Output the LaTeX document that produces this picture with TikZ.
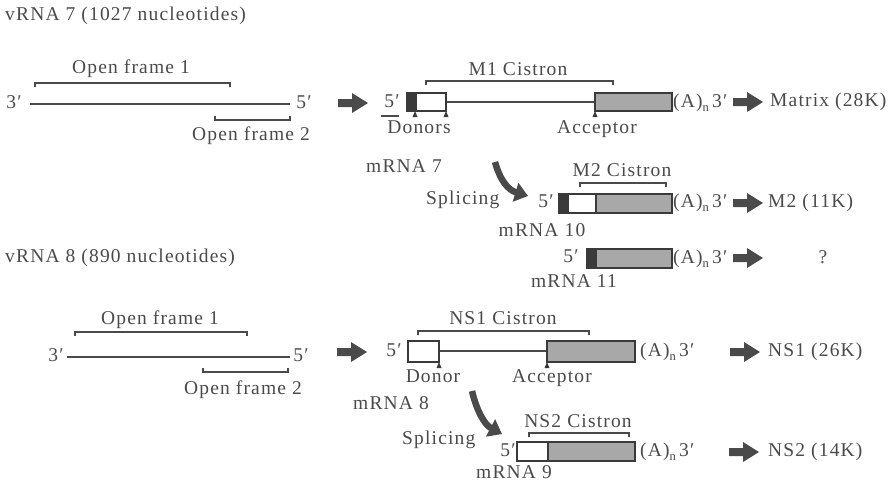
\documentclass[tikz,border=0pt]{standalone}
\usepackage{fontspec}
\setmainfont{Liberation Serif}[LetterSpace=6]
\usetikzlibrary{arrows.meta}
\definecolor{ink}{HTML}{4A4A4A}
\definecolor{dark}{HTML}{3A3A3A}
\definecolor{cistron}{HTML}{A8A8A8}
\newcommand{\polyA}{(A)\raisebox{-4pt}{\fontsize{12.5}{12}\selectfont n}\,3′}
\begin{document}
\begin{tikzpicture}[x=1pt,y=-1pt,
  lbl/.style={text=ink, inner sep=0pt, font=\fontsize{19.5}{22}\selectfont, text height=13pt, text depth=4.5pt},
  rna/.style={draw=ink, line width=1.3pt},
  brk/.style={draw=ink, line width=1.2pt},
  exon/.style={draw=dark, line width=1.6pt, fill=white},
  coding/.style={draw=dark, line width=1.8pt, fill=cistron},
  leader/.style={draw=dark, line width=1.6pt, fill=dark},
  splice/.style={draw=ink, line width=6.5pt, -{Triangle[length=13pt,width=19pt]}},
  fatarrow/.pic={\fill[ink] (0,-4) -- (14,-4) -- (14,-10) -- (30,0) -- (14,10) -- (14,4) -- (0,4) -- cycle;},
  site/.pic={\fill[dark] (0,0) -- (-2.5,6) -- (2.5,6) -- cycle;}
]
\useasboundingbox (0,0) rectangle (895,491);

% ---------------- segment 7 ----------------
\node[lbl, anchor=west] (v7) at (5,16) {vRNA 7 (1027 nucleotides)};

% genomic strand with its two open frames
\node[lbl] (v7three) at (14,104) {3′};
\node[lbl] (v7five) at (304,104) {5′};
\draw[rna] (30,104) -- (290,104);
\node[lbl] (v7of1) at (131,69) {Open frame 1};
\draw[brk] (35,87) |- (230,83) -- (230,87);
\draw[brk] (215,116) |- (290,120) -- (290,116);
\node[lbl] (v7of2) at (251,136) {Open frame 2};

\pic at (338,103) {fatarrow};

% mRNA 7 (unspliced)
\node[lbl] (m7five) at (392,103) {5′};
\draw[ink, line width=1.1pt] (381,116) -- (399,116);
\draw[rna] (446,102) -- (595,102);
\draw[leader] (407,93) rectangle (416,111);
\draw[exon] (416,93) rectangle (446,111);
\draw[coding] (595,93) rectangle (672,111);
\node[lbl] (m1c) at (518,71) {M1 Cistron};
\draw[brk] (426,85) |- (613,81) -- (613,85);
\pic at (415,111) {site};
\pic at (446,111) {site};
\pic at (595,111) {site};
\node[lbl] (donors) at (419,129) {Donors};
\node[lbl] (acc7) at (597,129) {Acceptor};
\node[lbl, anchor=west] (m7A) at (673,103) {\polyA};
\pic at (733,102) {fatarrow};
\node[lbl, anchor=west] (matrix) at (770,102) {Matrix (28K)};

% splicing to mRNA 10
\node[lbl, anchor=west] (m7lbl) at (366,168) {mRNA 7};
\node[lbl, anchor=west] (spl7) at (426,200) {Splicing};
\coordinate (s7a) at (495,162);
\coordinate (s7b) at (528,196);
\draw[splice] (s7a) .. controls (500,180) and (508,190) .. (s7b);

\node[lbl] (m10five) at (546,203) {5′};
\draw[leader] (559,194) rectangle (568,213);
\draw[exon] (568,194) rectangle (596,213);
\draw[coding] (596,194) rectangle (672,213);
\node[lbl] (m2c) at (622,172) {M2 Cistron};
\draw[brk] (580,187) |- (666,183) -- (666,187);
\node[lbl, anchor=west] (m10A) at (673,203) {\polyA};
\pic at (733,203) {fatarrow};
\node[lbl, anchor=west] (m2) at (768,203) {M2 (11K)};
\node[lbl] (m10lbl) at (542,232) {mRNA 10};

% mRNA 11
\node[lbl] (m11five) at (571,258) {5′};
\draw[leader] (587,249) rectangle (596,268);
\draw[coding] (596,249) rectangle (672,268);
\node[lbl, anchor=west] (m11A) at (673,259) {\polyA};
\pic at (733,258) {fatarrow};
\node[lbl] (unknown) at (823,259) {?};
\node[lbl] (m11lbl) at (574,283) {mRNA 11};

% ---------------- segment 8 ----------------
\node[lbl, anchor=west] (v8) at (5,258) {vRNA 8 (890 nucleotides)};

\node[lbl] (v8three) at (56,357) {3′};
\node[lbl] (v8five) at (301,357) {5′};
\draw[rna] (67,357) -- (290,357);
\node[lbl] (v8of1) at (160,320) {Open frame 1};
\draw[brk] (75,336) |- (247,332) -- (247,336);
\draw[brk] (203,368) |- (288,372) -- (288,368);
\node[lbl] (v8of2) at (243,390) {Open frame 2};

\pic at (337,352) {fatarrow};

% mRNA 8 (unspliced)
\node[lbl] (m8five) at (394,352) {5′};
\draw[rna] (439,351) -- (547,351);
\draw[exon] (408,341) rectangle (439,362);
\draw[coding] (547,341) rectangle (635,362);
\node[lbl] (ns1c) at (503,320) {NS1 Cistron};
\draw[brk] (418,335) |- (589,331) -- (589,335);
\pic at (439,362) {site};
\pic at (547,362) {site};
\node[lbl] (donor) at (433,378) {Donor};
\node[lbl] (acc8) at (552,378) {Acceptor};
\node[lbl, anchor=west] (m8A) at (640,352) {\polyA};
\pic at (730,352) {fatarrow};
\node[lbl, anchor=west] (ns1) at (768,352) {NS1 (26K)};

% splicing to mRNA 9
\node[lbl, anchor=west] (m8lbl) at (353,405) {mRNA 8};
\node[lbl, anchor=west] (spl8) at (402,440) {Splicing};
\coordinate (s8a) at (472,391);
\coordinate (s8b) at (502,434);
\draw[splice] (s8a) .. controls (477,412) and (485,425) .. (s8b);

\node[lbl] (m9five) at (508,452) {5′};
\draw[exon] (517,442) rectangle (548,461);
\draw[coding] (548,442) rectangle (635,461);
\node[lbl] (ns2c) at (578,423) {NS2 Cistron};
\draw[brk] (529,437) |- (629,433) -- (629,437);
\node[lbl, anchor=west] (m9A) at (640,452) {\polyA};
\pic at (729,452) {fatarrow};
\node[lbl, anchor=west] (ns2) at (768,452) {NS2 (14K)};
\node[lbl] (m9lbl) at (514,474) {mRNA 9};
\end{tikzpicture}
\end{document}
